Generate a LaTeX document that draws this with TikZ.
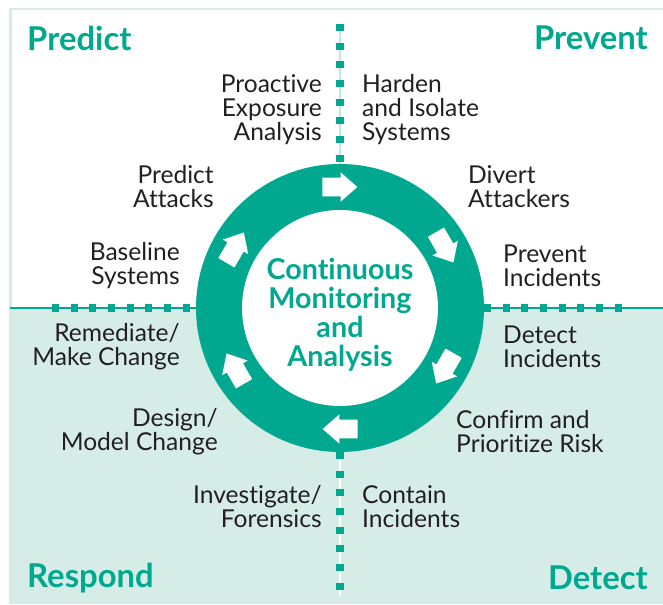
\documentclass[tikz,border=0pt]{standalone}
\usepackage{fontspec}
\setmainfont{Lato}[Ligatures={NoCommon}]
\usepackage{tkz-euclide}
\usepackage{xcolor}

\definecolor{ringgreen}{HTML}{00A88F}
\definecolor{palegreen}{HTML}{D6EDE7}
\definecolor{inkgray}{HTML}{231F20}

\tikzset{
  stagelabel/.style={font=\fontsize{21}{20.5}\selectfont, text=inkgray, inner sep=0pt},
  leftlabel/.style={stagelabel, anchor=east, align=right},
  rightlabel/.style={stagelabel, anchor=west, align=left},
  phase/.style={font=\fontsize{28}{30}\selectfont\bfseries, text=ringgreen, inner sep=0pt},
  dotline/.style={ringgreen, line width=6pt, dash pattern=on 0.21cm off 0.35cm},
}

\begin{document}
\begin{tikzpicture}
		\useasboundingbox (0,0) rectangle (19.89,18.12);

		\tkzDefPoint(10.2,8.88){O}
		\tkzDefPoint(14.52,8.88){A}
		\tkzDefPoint(13.14,8.88){B}
		\tkzDefPoint(0.31,8.88){W}
		\tkzDefPoint(20.2,8.88){E}
		\tkzDefPoint(10.2,17.40){N}
		\tkzDefPoint(10.2,0.24){S}
		\tkzDefPoint(10.2,13.20){T}
		\tkzDefPoint(10.2,4.56){U}
		\tkzDefPoint(1.56,8.88){L}
		\tkzDefPoint(5.88,8.88){Lr}
		\tkzDefPoint(14.52,8.88){Rr}
		\tkzDefPoint(18.75,8.88){R}

		% background halves
		\fill[palegreen] (0.27,0) rectangle (20.2,8.88);
		\draw[palegreen, line width=2.5pt] (W) -- (0.31,17.85) -- (20.2,17.85);

		% dividers
		\draw[ringgreen, line width=1.7pt] (W) -- (E);
		\draw[ringgreen!25, line width=1.5pt] (N) -- (T);
		\draw[white, line width=1.5pt] (U) -- (S);
		\draw[dotline] (N) -- (T);
		\draw[dotline] (U) -- (S);
		\draw[dotline] (L) -- (Lr);
		\draw[dotline] (Rr) -- (R);

		% ring
		\tkzFillCircle[color=ringgreen](O,A)
		\tkzFillCircle[color=white](O,B)
		\foreach \a in {90,30,-30,-90,-150,150}{
			\begin{scope}[shift={(O)}, rotate=\a]
				\fill[white] (3.35,0.53) -- (3.91,0.53) -- (3.91,-0.02) -- (4.07,-0.02)
					-- (3.63,-0.52) -- (3.19,-0.02) -- (3.35,-0.02) -- cycle;
			\end{scope}
		}

		\node[font=\fontsize{24.5}{24.8}\selectfont\bfseries, text=ringgreen, align=center] (core) at (10.2,8.67) {Continuous\\Monitoring\\and\\Analysis};

		% quadrant titles
		\node[phase, anchor=west] (predict) at (0.81,16.98) {Predict};
		\node[phase, anchor=east] (prevent) at (19.44,16.98) {Prevent};
		\node[phase, anchor=west] (respond) at (0.81,0.78) {Respond};
		\node[phase, anchor=east] (detect) at (19.44,0.78) {Detect};

		% stages
		\node[leftlabel] (proactive) at (9.66,14.82) {Proactive\\Exposure\\Analysis};
		\node[rightlabel] (harden) at (10.86,14.82) {Harden\\and Isolate\\Systems};
		\node[leftlabel] (attacks) at (6.42,12.51) {Predict\\Attacks};
		\node[rightlabel] (divert) at (14.04,12.51) {Divert\\Attackers};
		\node[leftlabel] (baseline) at (5.40,10.14) {Baseline\\Systems};
		\node[rightlabel] (preventinc) at (15.09,10.14) {Prevent\\Incidents};
		\node[leftlabel] (remediate) at (5.40,7.71) {Remediate/\\Make Change};
		\node[rightlabel] (detectinc) at (15.09,7.71) {Detect\\Incidents};
		\node[leftlabel] (design) at (6.54,5.16) {Design/\\Model Change};
		\node[rightlabel] (confirm) at (13.68,5.16) {Confirm and\\Prioritize Risk};
		\node[leftlabel] (investigate) at (9.66,2.91) {Investigate/\\Forensics};
		\node[rightlabel] (contain) at (10.86,2.91) {Contain\\Incidents};
	\end{tikzpicture}
\end{document}
